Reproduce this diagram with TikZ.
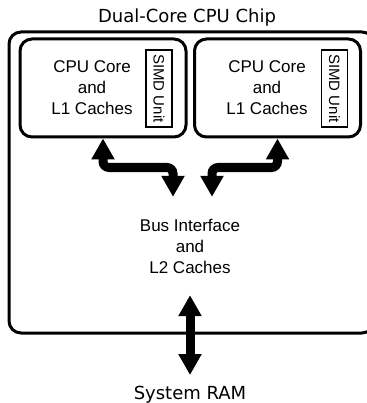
\documentclass[tikz,border=0pt]{standalone}
\usepackage{fontspec}
\setmainfont{Liberation Sans}
\newfontfamily\dejavu{DejaVu Sans}
\usetikzlibrary{arrows.meta, positioning}
\tikzset{
    % Box styles - rounded corners
    chip/.style={
        rectangle,
        rounded corners=12pt,
        draw=black,
        line width=3pt,
        minimum width=365pt,
        minimum height=301pt
    },
    core/.style={
        rectangle,
        rounded corners=12pt,
        draw=black,
        line width=3pt,
        minimum width=166pt,
        minimum height=98pt
    },
    simd/.style={
        rectangle,
        draw=black,
        line width=1.5pt,
        rotate=-90,
        minimum width=77pt,
        minimum height=26pt,
        inner sep=0pt,
        font=\fontsize{15}{18}\selectfont
    },
    % Text styles
    blocktext/.style={
        align=center,
        font=\fontsize{17}{21}\selectfont
    },
    headtext/.style={
        font=\dejavu\fontsize{18}{22}\selectfont
    },
    % Arrow style - thick, double headed
    bus/.style={
        {Triangle[width=22pt, length=21pt]}-{Triangle[width=22pt, length=21pt]},
        line width=9pt,
        rounded corners=6pt,
        draw=black
    }
}
\begin{document}
\begin{tikzpicture}[x=1pt, y=-1pt]
    \useasboundingbox (0,0) rectangle (366,403);

    % Chip outline
    \node[headtext] (title) at (187,18) {Dual-Core CPU Chip};
    \node[chip] (chip) at (191.5,182.5) {};

    % Two cores
    \node[core] (coreA) at (103,88) {};
    \node[blocktext] (textA) at (92,88) {CPU Core\\and\\L1 Caches};
    \node[simd] (simdA) at (159,88.5) {SIMD Unit};

    \node[core] (coreB) at (277.5,88) {};
    \node[blocktext] (textB) at (267,88) {CPU Core\\and\\L1 Caches};
    \node[simd] (simdB) at (334.5,88.5) {SIMD Unit};

    % Shared cache and RAM
    \node[blocktext, minimum height=98pt] (bus) at (190,246) {Bus Interface\\and\\L2 Caches};
    \node[headtext, anchor=north, inner ysep=11pt] (ram) at (190,375) {System RAM};

    % Connections
    \draw[bus] (coreA.south) -- ++(0,29) -| ([xshift=-17pt]bus.north);
    \draw[bus] (coreB.south) -- ++(0,29) -| ([xshift=22pt]bus.north);
    \draw[bus] (bus.south) -- (ram.north);
\end{tikzpicture}
\end{document}
